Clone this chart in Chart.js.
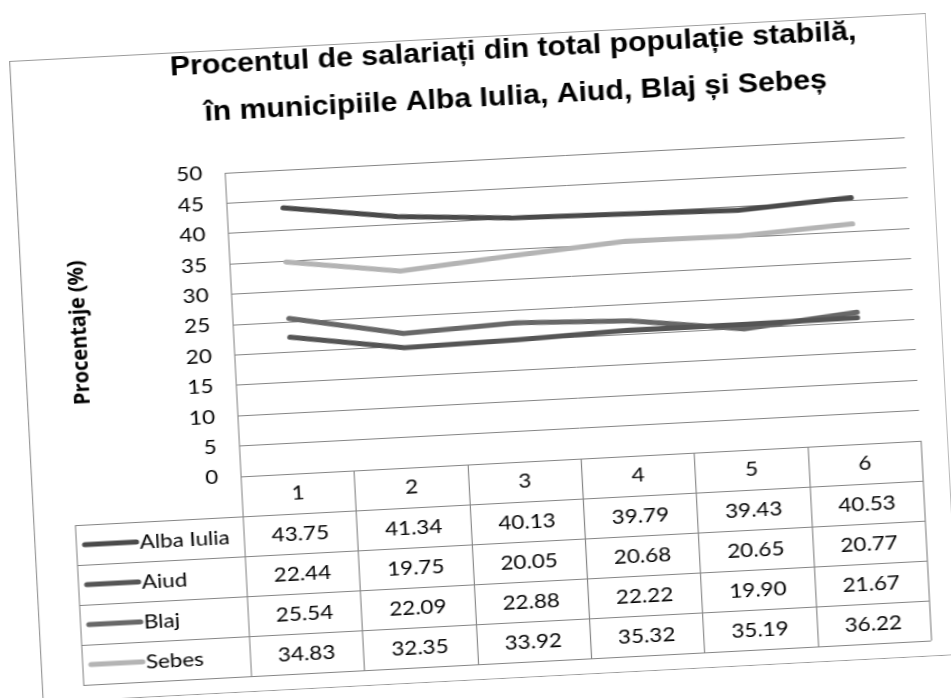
<!DOCTYPE html>
<html>
<head>
<meta charset="utf-8">
<script src="https://cdn.jsdelivr.net/npm/chart.js@4.4.1/dist/chart.umd.min.js"></script>
<style>
  html, body { margin: 0; padding: 0; background: #fff; overflow: hidden; }
  /* the scanned chart is a little stretched and tilted */
  #wrap {
    position: absolute; left: 9px; top: 61px; width: 820px; height: 643px;
    transform-origin: 0 0; transform: rotate(-3deg) scaleX(1.12);
  }
</style>
</head>
<body>
<div id="wrap"><canvas id="chart" width="820" height="643"></canvas></div>
<script>
// ============ Data ============
const categories = ['1', '2', '3', '4', '5', '6'];
const seriesNames = ['Alba Iulia', 'Aiud', 'Blaj', 'Sebes'];
const albaIulia = [43.75, 41.34, 40.13, 39.79, 39.43, 40.53];
const aiud = [22.44, 19.75, 20.05, 20.68, 20.65, 20.77];
const blaj = [25.54, 22.09, 22.88, 22.22, 19.90, 21.67];
const sebes = [34.83, 32.35, 33.92, 35.32, 35.19, 36.22];
const titleLines = [
    'Procentul de salariați din total populație stabilă,',
    'în municipiile Alba Iulia, Aiud, Blaj și Sebeș'
];
const yTitle = 'Procentaje (%)';

// ============ Style ============
const GRID = '#858585';
const colors = ['#4a4a4a', '#555555', '#686868', '#b4b4b4'];
const FONT = 'Lato';

// ============ Plugins ============
const backgroundPlugin = {
    id: 'bg',
    beforeDraw(chart) {
        const { ctx, width, height } = chart;
        ctx.save();
        ctx.fillStyle = '#fff';
        ctx.fillRect(0, 0, width, height);
        ctx.restore();
    }
};

const titlePlugin = {
    id: 'bigTitle',
    afterDraw(chart) {
        const { ctx } = chart;
        ctx.save();
        ctx.fillStyle = '#000';
        ctx.font = 'bold 27px "Liberation Sans", Arial, sans-serif';
        ctx.textAlign = 'center';
        ctx.textBaseline = 'alphabetic';
        ctx.fillText(titleLines[0], 450, 23);
        ctx.fillText(titleLines[1], 450, 70);
        // outer frame
        ctx.strokeStyle = '#9a9a9a';
        ctx.lineWidth = 1;
        ctx.strokeRect(0.5, 0.5, chart.width - 1, chart.height - 1);
        ctx.restore();
    }
};

// data table under the plot, Excel style
const tablePlugin = {
    id: 'dataTable',
    afterDraw(chart) {
        const { ctx, chartArea: a, scales: { x } } = chart;
        const colW = (a.right - a.left) / categories.length;
        const headTop = a.bottom, headH = 40, rowH = 40;
        const rowsTop = headTop + headH;
        const bottom = rowsTop + rowH * seriesNames.length;
        const tableLeft = 37;

        ctx.save();
        ctx.strokeStyle = GRID;
        ctx.lineWidth = 1;
        ctx.beginPath();
        for (let i = 0; i <= categories.length; i++) {
            const xx = Math.round(a.left + i * colW) + 0.5;
            ctx.moveTo(xx, headTop);
            ctx.lineTo(xx, bottom);
        }
        ctx.moveTo(tableLeft + 0.5, rowsTop);
        ctx.lineTo(tableLeft + 0.5, bottom);
        for (let r = 0; r <= seriesNames.length; r++) {
            const yy = Math.round(rowsTop + r * rowH) + 0.5;
            ctx.moveTo(tableLeft, yy);
            ctx.lineTo(a.right, yy);
        }
        ctx.stroke();

        ctx.fillStyle = '#000';
        ctx.font = '20px ' + FONT;
        ctx.textBaseline = 'middle';
        ctx.textAlign = 'center';
        categories.forEach((c, i) => ctx.fillText(c, x.getPixelForValue(i), headTop + headH / 2));

        chart.data.datasets.forEach((ds, r) => {
            const cy = rowsTop + r * rowH + rowH / 2;
            ctx.textAlign = 'center';
            ds.data.forEach((v, i) => ctx.fillText(v.toFixed(2), x.getPixelForValue(i), cy + 1));
            // legend key
            ctx.strokeStyle = ds.borderColor;
            ctx.lineWidth = 5;
            ctx.lineCap = 'round';
            ctx.beginPath();
            ctx.moveTo(45, cy);
            ctx.lineTo(91, cy);
            ctx.stroke();
            ctx.textAlign = 'left';
            ctx.fillText(ds.label, 94, cy + 1);
        });
        ctx.restore();
    }
};

// ============ Chart ============
const seriesValues = [albaIulia, aiud, blaj, sebes];

new Chart(document.getElementById('chart'), {
    type: 'line',
    data: {
        labels: categories,
        datasets: seriesNames.map((name, i) => ({
            label: name,
            data: seriesValues[i],
            borderColor: colors[i],
            backgroundColor: colors[i],
            borderWidth: 5,
            borderCapStyle: 'round',
            borderJoinStyle: 'round',
            pointRadius: 0,
            tension: 0,
            fill: false
        }))
    },
    options: {
        responsive: false,
        animation: false,
        devicePixelRatio: 1,
        layout: { padding: { top: 123, right: 25, bottom: 216, left: 0 } },
        plugins: {
            legend: { display: false },
            title: { display: false },
            tooltip: { enabled: false }
        },
        scales: {
            x: { display: false, offset: true },
            y: {
                min: 0,
                max: 50,
                ticks: {
                    stepSize: 5,
                    color: '#000',
                    padding: 20,
                    font: { family: FONT, size: 20 }
                },
                grid: { color: GRID, drawTicks: false },
                border: { color: GRID },
                title: {
                    display: true,
                    text: yTitle,
                    color: '#000',
                    font: { family: '"Open Sans"', size: 20, weight: 'bold' },
                    padding: { top: 38, bottom: 0 }
                },
                afterFit(scale) { scale.width = 187; }
            }
        }
    },
    plugins: [backgroundPlugin, tablePlugin, titlePlugin]
});
</script>
</body>
</html>
